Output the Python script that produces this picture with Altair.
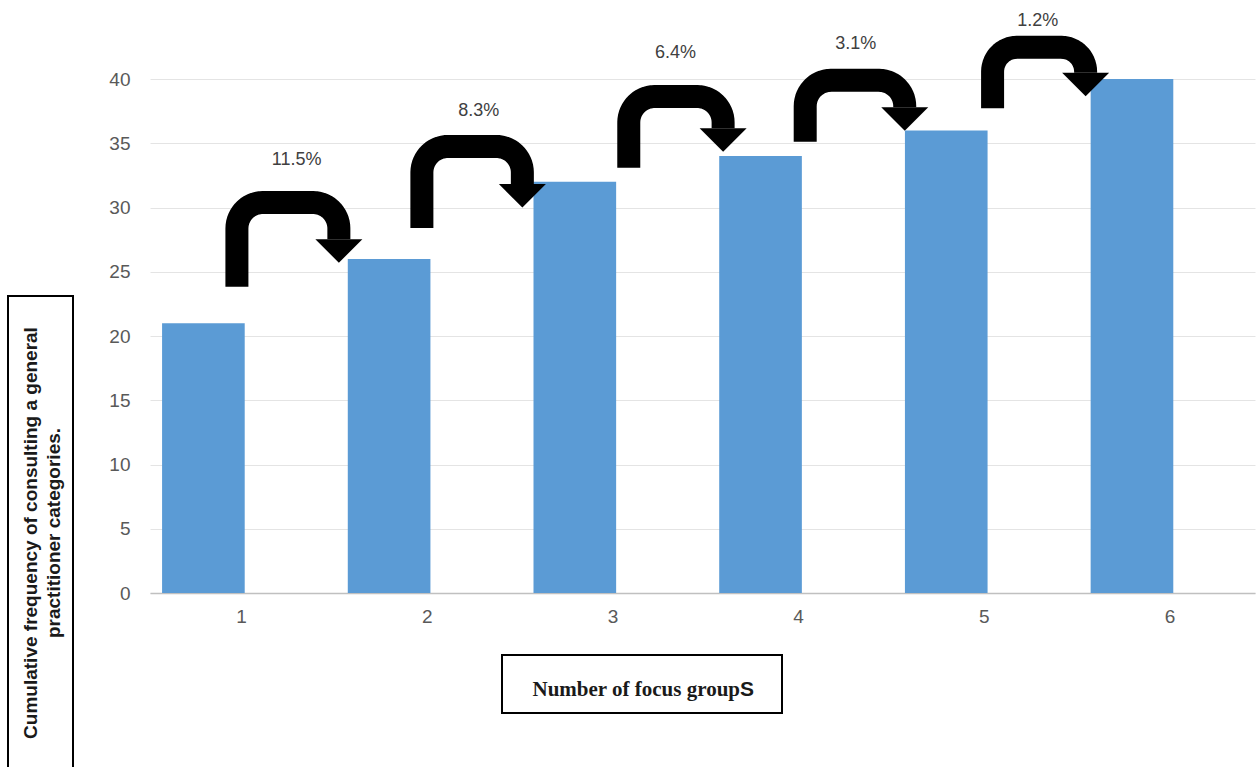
import altair as alt
import numpy as np
import pandas as pd

# ---------------- data ----------------
groups = [1, 2, 3, 4, 5, 6]
cum_freq = [21, 26, 32, 34, 36, 40]
y_ticks = [0, 5, 10, 15, 20, 25, 30, 35, 40]

pct_labels = ["11.5%", "8.3%", "6.4%", "3.1%", "1.2%"]
pct_x = [1.30, 2.28, 3.34, 4.31, 5.29]
pct_y = [33.7, 37.5, 42.0, 42.7, 44.5]

# arrow annotations (in axis units)
arrow_x0 = [0.978, 1.974, 3.088, 4.038, 5.047]     # stem
arrow_x1 = [1.527, 2.515, 3.596, 4.574, 5.548]     # head
arrow_y0 = [23.84, 28.40, 33.10, 35.12, 37.72]     # stem bottom
arrow_top = [30.39, 34.75, 38.64, 39.90, 42.47]    # arch top (centre line)
arrow_head = [27.53, 31.83, 36.16, 37.80, 40.49]   # head base

y_title = ["Cumulative frequency of consulting a general", "practitioner categories."]
x_title_main = "Number of focus group"
x_title_tail = "S"

# ---------------- layout ----------------
W, H = 1105, 514
PAD_L, PAD_T, PAD_R, PAD_B = 150, 79, 3, 174
X_DOM = [0.51, 6.46]
Y_DOM = [0, 40]
kx = W / (X_DOM[1] - X_DOM[0])
ky = H / (Y_DOM[1] - Y_DOM[0])

FONT = "Liberation Sans"

xscale = alt.Scale(domain=X_DOM, nice=False, zero=False)
yscale = alt.Scale(domain=Y_DOM, nice=False, zero=False)
xaxis = alt.Axis(values=groups, format="d", title=None, grid=False,
                 ticks=False, domain=True, domainColor="#c0c0c0",
                 domainWidth=1.3, labelFontSize=19, labelColor="#595959",
                 labelFont=FONT, labelPadding=14)
yaxis = alt.Axis(values=y_ticks, title=None, grid=True, gridColor="#e4e4e4",
                 gridWidth=1, ticks=False, domain=False, labelFontSize=19,
                 labelColor="#595959", labelFont=FONT, labelPadding=20)

bars = pd.DataFrame({"group": groups, "value": cum_freq})
bars["x0"] = bars["group"] - 0.425
bars["x1"] = bars["group"] + 0.02

# build arrow centre-line paths (round corners in pixel space)
R = 26.0
rows = []
for a in range(len(arrow_x0)):
    X0, X1 = arrow_x0[a] * kx, arrow_x1[a] * kx
    Yb, Yt, Yh = arrow_y0[a] * ky, arrow_top[a] * ky, arrow_head[a] * ky
    r = min(R, (Yt - Yh) - 1)
    pts = [(X0, Yb)]
    for t in np.linspace(np.pi, np.pi / 2, 16):
        pts.append((X0 + r + r * np.cos(t), Yt - r + r * np.sin(t)))
    for t in np.linspace(np.pi / 2, 0, 16):
        pts.append((X1 - r + r * np.cos(t), Yt - r + r * np.sin(t)))
    pts.append((X1, Yh))
    for i, (px, py) in enumerate(pts):
        rows.append({"arrow": a, "i": i, "x": px / kx, "y": py / ky})
arrow_df = pd.DataFrame(rows)
head_df = pd.DataFrame({"x": arrow_x1, "y": arrow_head})
pct_df = pd.DataFrame({"x": pct_x, "y": pct_y, "t": pct_labels})

bar_layer = alt.Chart(bars).mark_bar(color="#5b9bd5").encode(
    x=alt.X("x0:Q", scale=xscale, axis=xaxis),
    x2="x1:Q",
    y=alt.Y("value:Q", scale=yscale, axis=yaxis),
    y2=alt.datum(0),
)

arrow_layer = alt.Chart(arrow_df).mark_line(
    color="black", strokeWidth=23, strokeCap="butt", strokeJoin="round"
).encode(
    x=alt.X("x:Q", scale=xscale, axis=xaxis),
    y=alt.Y("y:Q", scale=yscale, axis=yaxis),
    detail="arrow:N",
    order="i:Q",
)

head_layer = alt.Chart(head_df).mark_point(
    shape="M -1 0 L 1 0 L 0 1 Z", size=47 * 47, filled=True, color="black",
    opacity=1, strokeWidth=0
).encode(
    x=alt.X("x:Q", scale=xscale, axis=xaxis),
    y=alt.Y("y:Q", scale=yscale, axis=yaxis),
)

pct_layer = alt.Chart(pct_df).mark_text(
    fontSize=18, font=FONT, color="#404040", align="center", baseline="middle"
).encode(
    x=alt.X("x:Q", scale=xscale, axis=xaxis),
    y=alt.Y("y:Q", scale=yscale, axis=yaxis),
    text="t:N",
)

one = alt.Data(values=[{}])

ybox = alt.Chart(one).mark_rect(fill="white", stroke="black", strokeWidth=2).encode(
    x=alt.value(8 - PAD_L), x2=alt.value(73 - PAD_L),
    y=alt.value(296 - PAD_T), y2=alt.value(800 - PAD_T),
)
ytext = alt.Chart(one).mark_text(
    text=y_title, angle=270, fontSize=19, fontWeight="bold", font=FONT,
    color="#1a1a1a", align="center", baseline="middle", lineHeight=23
).encode(x=alt.value(31 - PAD_L), y=alt.value(533 - PAD_T))

xbox = alt.Chart(one).mark_rect(fill="white", stroke="black", strokeWidth=2).encode(
    x=alt.value(502 - PAD_L), x2=alt.value(782 - PAD_L),
    y=alt.value(655 - PAD_T), y2=alt.value(713 - PAD_T),
)
xtext1 = alt.Chart(one).mark_text(
    text=x_title_main, fontSize=21, fontWeight="bold", font="Liberation Serif",
    color="#1a1a1a", align="right", baseline="alphabetic"
).encode(x=alt.value(740 - PAD_L), y=alt.value(696 - PAD_T))
xtext2 = alt.Chart(one).mark_text(
    text=x_title_tail, fontSize=21, fontWeight="bold", font=FONT,
    color="#1a1a1a", align="left", baseline="alphabetic"
).encode(x=alt.value(740 - PAD_L), y=alt.value(696 - PAD_T))

chart = alt.layer(
    bar_layer, arrow_layer, head_layer, pct_layer, ybox, ytext, xbox, xtext1, xtext2
).properties(
    width=W, height=H,
    autosize=alt.AutoSizeParams(type="none"),
    padding={"left": PAD_L, "top": PAD_T, "right": PAD_R, "bottom": PAD_B},
    background="white",
).configure_view(stroke=None)

chart.save("out.html", embed_options={"renderer": "svg", "actions": False})
